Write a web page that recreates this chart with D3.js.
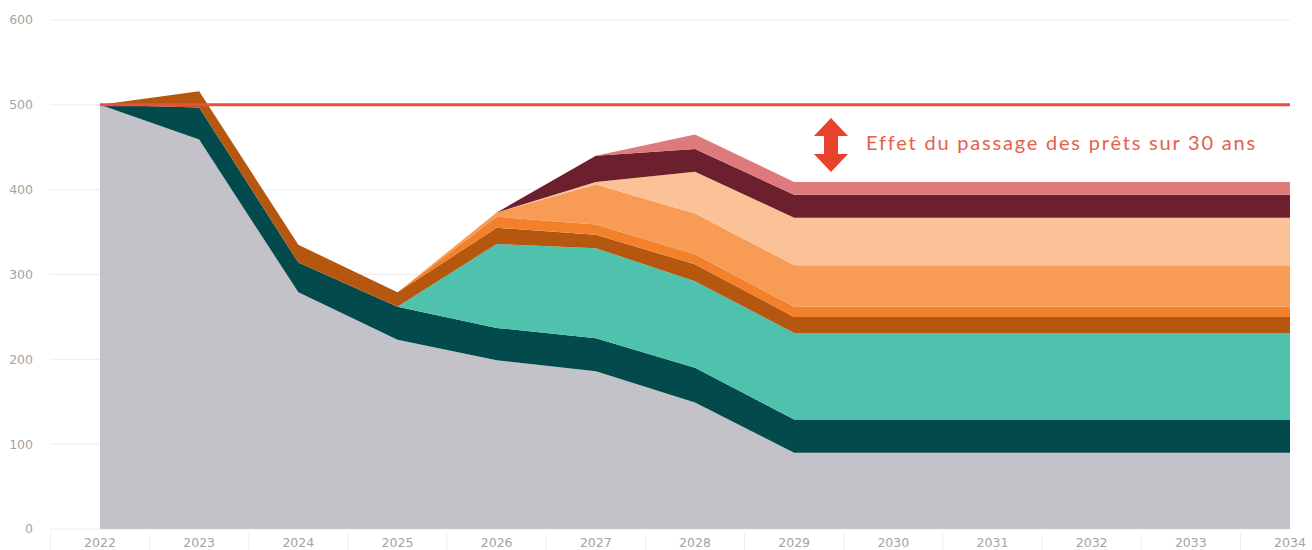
<!DOCTYPE html>
<html>
<head>
<meta charset="utf-8">
<script src="https://cdn.jsdelivr.net/npm/d3@7"></script>
<style>
  body { margin: 0; background: #fff; }
  svg { display: block; font-family: 'Lato', 'DejaVu Sans', sans-serif; }
  .tick-label { fill: #a3a3a3; font-size: 12.5px; font-family: 'DejaVu Sans', sans-serif; }
</style>
</head>
<body>
<script>
// Years on the x axis
const years = ['2022', '2023', '2024', '2025', '2026', '2027', '2028', '2029',
  '2030', '2031', '2032', '2033', '2034'];

// Stacked layers, bottom to top
const gris = [500, 459, 279, 223, 199, 186, 149, 90, 90, 90, 90, 90, 90];
const vertFonce = [0, 38, 35, 39, 38, 39, 41, 39, 39, 39, 39, 39, 39];
const turquoise = [0, 0, 0, 0, 99, 106, 102, 102, 102, 102, 102, 102, 102];
const brun = [0, 19, 21, 17, 19, 16, 20, 19, 19, 19, 19, 19, 19];
const orangeVif = [0, 0, 0, 0, 13, 12, 12, 12, 12, 12, 12, 12, 12];
const orange = [0, 0, 0, 0, 5, 47, 48, 49, 49, 49, 49, 49, 49];
const peche = [0, 0, 0, 0, 0, 3, 49, 56, 56, 56, 56, 56, 56];
const bordeaux = [0, 0, 0, 0, 0, 31, 27, 27, 27, 27, 27, 27, 27];
const rose = [0, 0, 0, 0, 0, 0, 17, 15, 15, 15, 15, 15, 15];

const keys = ['gris', 'vertFonce', 'turquoise', 'brun', 'orangeVif', 'orange', 'peche', 'bordeaux', 'rose'];
const colors = ['#c3c2c9', '#024a4c', '#4fc2ad', '#b6570f', '#f3802a', '#f79b55', '#fbc197', '#6c1f2d', '#df7a7c'];
const series = [gris, vertFonce, turquoise, brun, orangeVif, orange, peche, bordeaux, rose];

const yTicks = [0, 100, 200, 300, 400, 500, 600];
const seuil = 500;
const annotation = 'Effet du passage des prêts sur 30 ans';

const table = years.map((y, i) => {
  const row = { year: y };
  keys.forEach((k, j) => { row[k] = series[j][i]; });
  return row;
});

// Width and height
const w = 1312;
const h = 550;

const xScale = d3.scalePoint().domain(years).range([100, 1290]);
const yScale = d3.scaleLinear().domain([0, 600]).range([529, 20]);

const svg = d3.select('body')
  .append('svg')
  .attr('width', w)
  .attr('height', h);

// Gridlines
svg.append('g')
  .selectAll('line')
  .data(yTicks)
  .enter()
  .append('line')
  .attr('x1', 50)
  .attr('x2', 1290)
  .attr('y1', d => yScale(d))
  .attr('y2', d => yScale(d))
  .attr('stroke', '#ececec')
  .attr('stroke-width', 1);

// y labels
svg.append('g')
  .selectAll('text')
  .data(yTicks)
  .enter()
  .append('text')
  .attr('class', 'tick-label')
  .attr('x', 33)
  .attr('y', d => yScale(d))
  .attr('dy', '0.35em')
  .attr('text-anchor', 'end')
  .text(d => d);

// faint separators between years
const step = xScale.step();
svg.append('g')
  .selectAll('line')
  .data(years)
  .enter()
  .append('line')
  .attr('x1', d => xScale(d) - step / 2)
  .attr('x2', d => xScale(d) - step / 2)
  .attr('y1', 533)
  .attr('y2', 550)
  .attr('stroke', '#efefef');

// x labels
svg.append('g')
  .selectAll('text')
  .data(years)
  .enter()
  .append('text')
  .attr('class', 'tick-label')
  .attr('x', d => xScale(d))
  .attr('y', 547)
  .attr('text-anchor', 'middle')
  .text(d => d);

// Stacked areas
const stack = d3.stack().keys(keys);
const stacked = stack(table);

const area = d3.area()
  .x(d => xScale(d.data.year))
  .y0(d => yScale(d[0]))
  .y1(d => yScale(d[1]));

svg.append('g')
  .selectAll('path')
  .data(stacked)
  .enter()
  .append('path')
  .attr('d', area)
  .attr('fill', (d, i) => colors[i]);

// 500 line
svg.append('line')
  .attr('x1', xScale(years[0]))
  .attr('x2', xScale(years[years.length - 1]))
  .attr('y1', yScale(seuil))
  .attr('y2', yScale(seuil))
  .attr('stroke', '#e8503a')
  .attr('stroke-width', 3);

// Annotation: double arrow + text
const ax = 831;
const arrowTop = 118;
const arrowBot = 172;
const hw = 17; // half width of the heads
const sw = 7;  // half width of the shaft
const hh = 18; // head height
svg.append('path')
  .attr('fill', '#e8412c')
  .attr('d', `M${ax},${arrowTop} L${ax + hw},${arrowTop + hh} L${ax + sw},${arrowTop + hh} L${ax + sw},${arrowBot - hh} L${ax + hw},${arrowBot - hh} L${ax},${arrowBot} L${ax - hw},${arrowBot - hh} L${ax - sw},${arrowBot - hh} L${ax - sw},${arrowTop + hh} L${ax - hw},${arrowTop + hh} Z`);

svg.append('text')
  .attr('x', 866)
  .attr('y', 143)
  .attr('dy', '0.35em')
  .attr('fill', '#e5604a')
  .attr('font-size', 20)
  .attr('letter-spacing', 1.8)
  .text(annotation);
</script>
</body>
</html>
